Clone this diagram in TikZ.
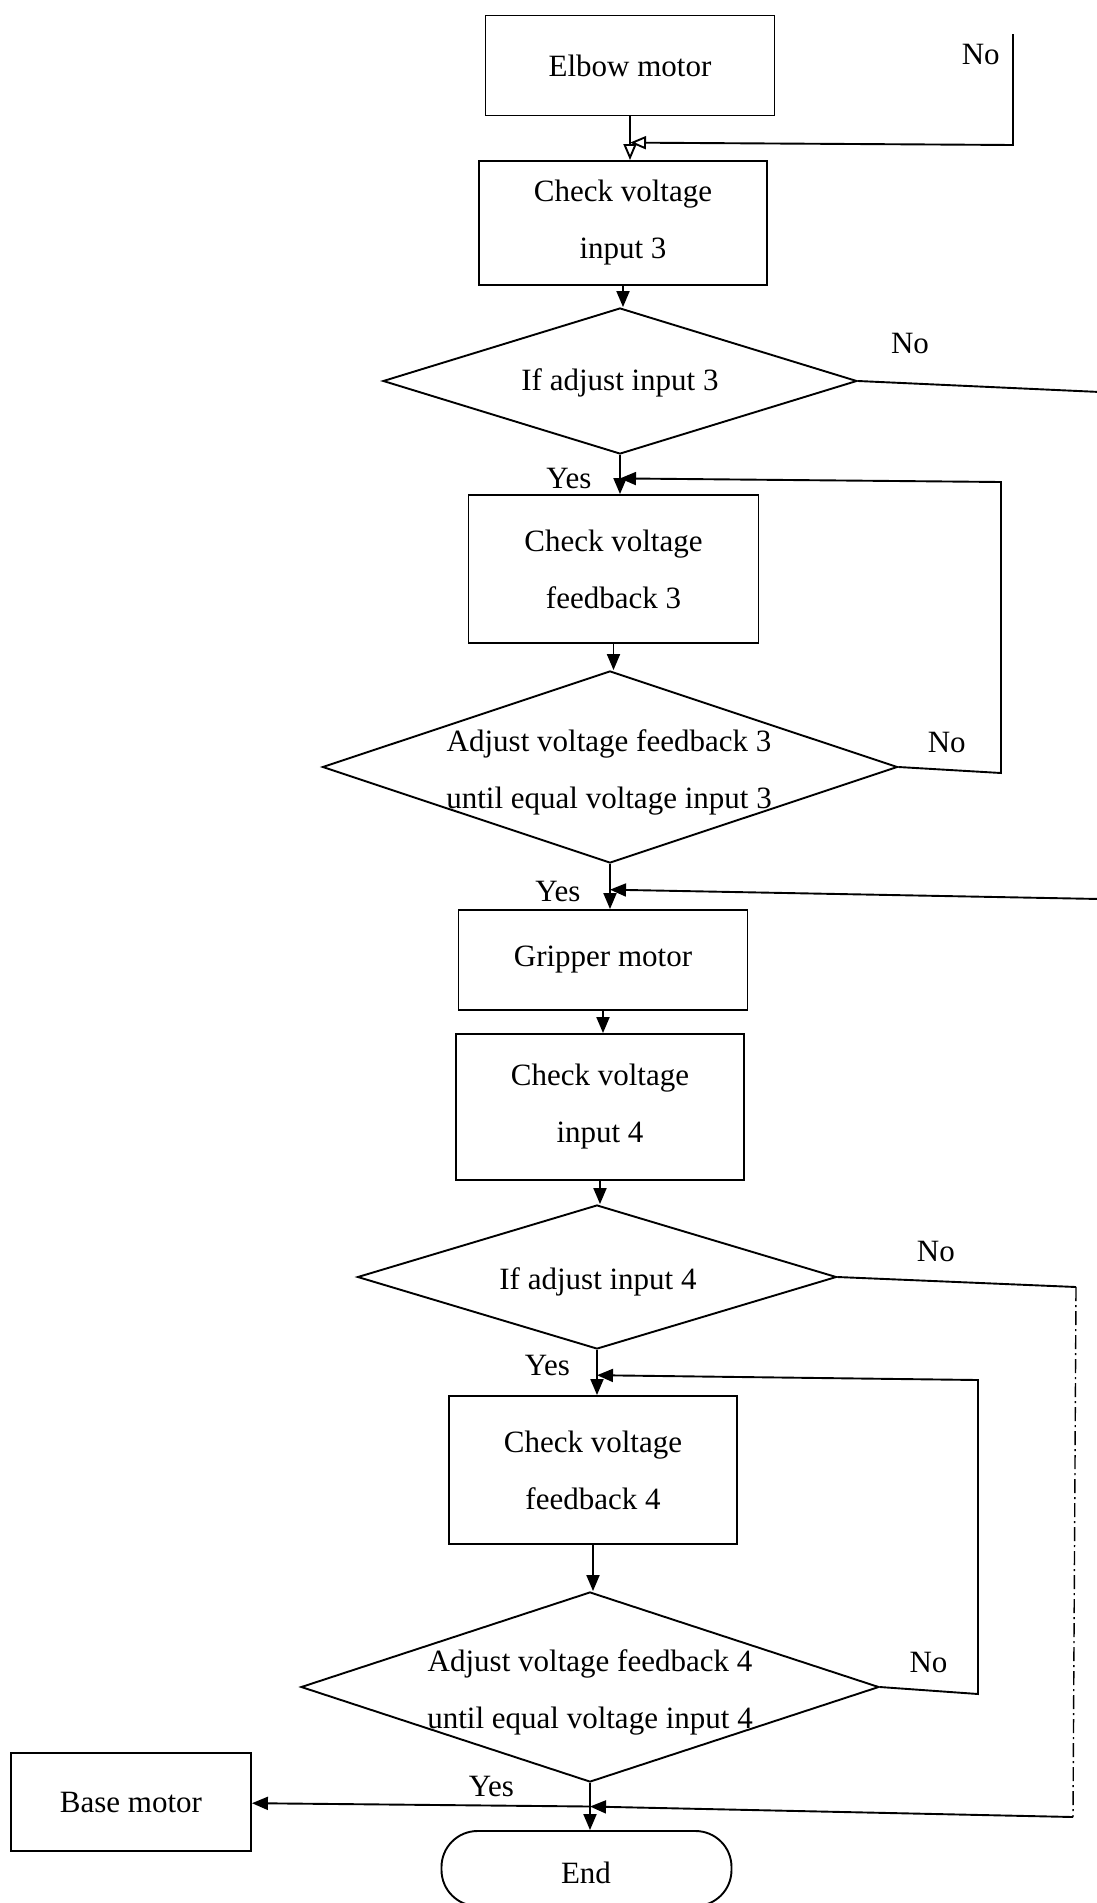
\documentclass[tikz,border=0pt]{standalone}
\usepackage{fontspec}
\setmainfont{Liberation Serif}
\usetikzlibrary{arrows.meta,shapes.geometric,calc}
\begin{document}
\begin{tikzpicture}[x=1pt,y=-1pt,
  line width=1.9pt,
  txt/.style={font=\fontsize{31}{57}\selectfont},
  box/.style={draw,rectangle,align=center,inner sep=0pt,txt},
  dia/.style={draw,diamond,inner sep=0pt},
  lbl/.style={align=center,inner sep=0pt,txt},
  arr/.style={-{Triangle[length=16pt,width=13pt]}},
  oarr/.style={-{Triangle[open,length=16pt,width=13pt]}},
  dashpat/.style={line width=1.4pt,dash pattern=on 14pt off 4pt on 2pt off 4pt},
  ]
\useasboundingbox (0,0) rectangle (1096,1903);
\fill[white] (0,0) rectangle (1096,1903);

% boxes
\node[box,minimum width=289pt,minimum height=100pt] (elbow) at (630,65.5) {Elbow motor};
\node[box,minimum width=288pt,minimum height=124pt] (chk1) at (623,223) {Check voltage\\input 3};
\node[box,minimum width=290pt,minimum height=148pt] (fb3) at (613.5,569) {Check voltage\\feedback 3};
\node[box,minimum width=289pt,minimum height=100pt] (grip) at (603,960) {Gripper motor};
\node[box,minimum width=288pt,minimum height=146pt] (chk2) at (600,1107) {Check voltage\\input 4};
\node[box,minimum width=288pt,minimum height=148pt] (fb4) at (593,1470) {Check voltage\\feedback 4};
\node[box,minimum width=240pt,minimum height=98pt] (base) at (131,1802) {Base motor};
\node[box,minimum width=290pt,minimum height=75pt,rounded corners=36pt] (end) at (586.5,1868.5) {};
\node[lbl] (endt) at (586,1873) {End};

% decisions
\node[dia,minimum width=474pt,minimum height=146pt] (d1) at (620,381) {};
\node[lbl] (d1t) at (620,383) {If adjust input 3};
\node[dia,minimum width=575pt,minimum height=192pt] (d2) at (610,767) {};
\node[lbl] (d2t) at (609,772) {Adjust voltage feedback 3\\until equal voltage input 3};
\node[dia,minimum width=479pt,minimum height=144pt] (d3) at (597,1277) {};
\node[lbl] (d3t) at (598,1282) {If adjust input 4};
\node[dia,minimum width=578pt,minimum height=190pt] (d4) at (590,1687) {};
\node[lbl] (d4t) at (590,1692) {Adjust voltage feedback 4\\until equal voltage input 4};

% labels
\node[lbl] (no0) at (980.7,54.6) {No};
\node[lbl] (no1) at (910,343.5) {No};
\node[lbl] (no2) at (946.7,742.8) {No};
\node[lbl] (no3) at (935.8,1251.3) {No};
\node[lbl] (no4) at (928.5,1662.8) {No};
\node[lbl] (yes1) at (569,478) {Yes};
\node[lbl] (yes2) at (558,891) {Yes};
\node[lbl] (yes3) at (547.4,1365.4) {Yes};
\node[lbl] (yes4) at (491.5,1786.6) {Yes};

% ends of the vertical connectors
\coordinate (a0) at (elbow.south |- chk1.north);
\coordinate (a1) at (chk1.south |- d1.north);
\coordinate (a2) at (d1.south |- fb3.north);
\coordinate (a3) at (fb3.south |- d2.north);
\coordinate (a4) at (d2.south |- grip.north);
\coordinate (a5) at (grip.south |- chk2.north);
\coordinate (a6) at (chk2.south |- d3.north);
\coordinate (a7) at (d3.south |- fb4.north);
\coordinate (a8) at (fb4.south |- d4.north);
\coordinate (a9) at (d4.south |- end.north);

% junctions
\coordinate (j0) at ($(elbow.south)!0.6!(a0)$);
\coordinate (j1) at ($(d1.south)!0.6!(a2)$);
\coordinate (j2) at ($(d2.south)!0.57!(a4)$);
\coordinate (j3) at ($(d3.south)!0.56!(a7)$);
\coordinate (j4) at ($(d4.south)!0.5!(a9)$);

% helper points
\coordinate (t0) at (1013,34);
\coordinate (t1) at (1013,145);
\coordinate (e1) at (1100,392);
\coordinate (e2) at (1100,899);
\coordinate (r3a) at (1001,773);
\coordinate (r3b) at (1001,482);
\coordinate (r4a) at (1076,1287);
\coordinate (r4b) at (1073,1817);
\coordinate (r5a) at (978,1694);
\coordinate (r5b) at (978,1380);

% main flow
\draw[oarr] (elbow.south) -- (a0);
\draw[arr] (chk1.south) -- (a1);
\draw[arr] (d1.south) -- (a2);
\draw[arr] (fb3.south) -- (a3);
\draw[arr] (d2.south) -- (a4);
\draw[arr] (grip.south) -- (a5);
\draw[arr] (chk2.south) -- (a6);
\draw[arr] (d3.south) -- (a7);
\draw[arr] (fb4.south) -- (a8);
\draw[arr] (d4.south) -- (a9);
\draw[arr] (j4) -- (base);

% loops and "No" branches
\draw[oarr] (t0) -- (t1) -- (j0);
\draw (d1.east) -- (e1);
\draw[arr] (d2.east) -- (r3a) -- (r3b) -- (j1);
\draw[arr] (e2) -- (j2);
\draw (d3.east) -- (r4a);
\draw[dashpat] (r4a) -- (r4b);
\draw[arr] (r4b) -- (j4);
\draw[arr] (d4.east) -- (r5a) -- (r5b) -- (j3);
\end{tikzpicture}
\end{document}
